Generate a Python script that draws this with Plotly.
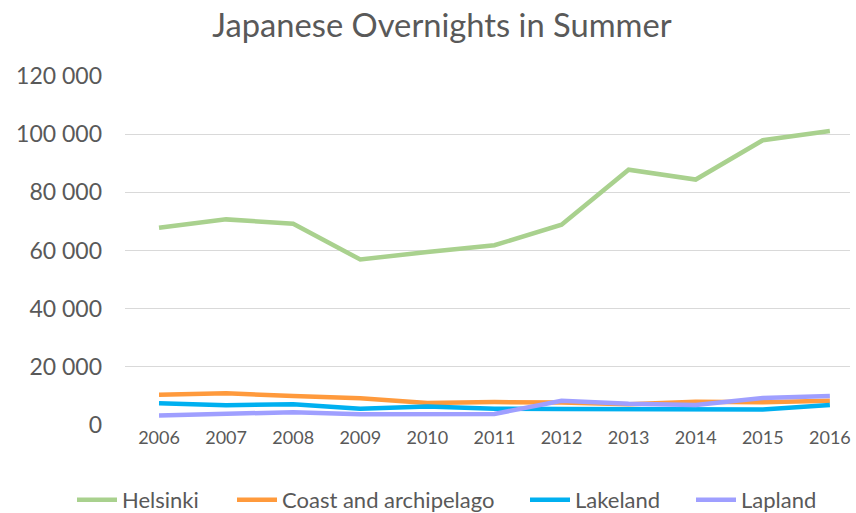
import plotly.graph_objects as go

years = [2006, 2007, 2008, 2009, 2010, 2011, 2012, 2013, 2014, 2015, 2016]
helsinki = [67800, 70700, 69200, 56900, 59500, 61800, 68900, 87800, 84400, 97900, 101100]
coast = [10400, 10900, 10000, 9200, 7600, 7900, 7700, 7100, 8000, 7800, 8300]
lakeland = [7500, 6800, 7100, 5600, 6400, 5600, 5500, 5500, 5500, 5300, 6900]
lapland = [3300, 3900, 4400, 3700, 3700, 3800, 8300, 7300, 6900, 9300, 10000]

names = ["Helsinki", "Coast and archipelago", "Lakeland", "Lapland"]
colors = ["#a9d18e", "#ff9a3c", "#00b0f0", "#9f9fff"]
series = [helsinki, coast, lakeland, lapland]

yticks = [0, 20000, 40000, 60000, 80000, 100000, 120000]
ytext = ["0", "20 000", "40 000", "60 000", "80 000", "100 000", "120 000"]

font = "Lato, Open Sans, sans-serif"
L, R, T, B = 125, 6, 76, 88
W, H = 856, 513
pw = W - L - R
ph = H - T - B

legend_ids = ["legend", "legend2", "legend3", "legend4"]
legend_px = [75, 235, 528, 694]  # left edge of each legend entry, in pixels

fig = go.Figure()
for n, c, s, lid in zip(names, colors, series, legend_ids):
    fig.add_trace(go.Scatter(x=years, y=s, name=n, mode="lines", legend=lid,
                             line=dict(color=c, width=4.5)))

legends = {}
for lid, px in zip(legend_ids, legend_px):
    legends[lid] = dict(orientation="h", x=(px - L - 3) / pw, xanchor="left",
                        y=(ph + T - 500) / ph, yanchor="middle",
                        font=dict(size=22, color="#595959"), itemwidth=40,
                        bgcolor="rgba(0,0,0,0)")

fig.update_layout(
    width=W, height=H,
    paper_bgcolor="white", plot_bgcolor="white",
    margin=dict(l=L, r=R, t=T, b=B, autoexpand=False),
    title=dict(text="Japanese Overnights in Summer", x=442 / W, xanchor="center",
               y=1 - 26 / H, yanchor="middle",
               font=dict(family=font, size=32.7, color="#595959")),
    font=dict(family=font, color="#595959"),
    showlegend=True,
    xaxis=dict(range=[2005.493, 2016.30], tickvals=years, ticktext=[str(y) for y in years],
               showgrid=False, zeroline=False, showline=False, automargin=False,
               tickfont=dict(size=18, color="#595959"), ticks=""),
    yaxis=dict(range=[0, 120000], tickvals=yticks, ticktext=ytext,
               showgrid=True, gridcolor="#d9d9d9", gridwidth=1.3,
               zeroline=False, showline=False, automargin=False,
               tickfont=dict(size=23, color="#595959"), ticks="", ticklen=0,
               ticklabelstandoff=22),
    **legends,
)
fig.write_html("out.html", config={"displayModeBar": False},
               post_script="document.body.style.margin='0';document.body.style.overflow='hidden';")
